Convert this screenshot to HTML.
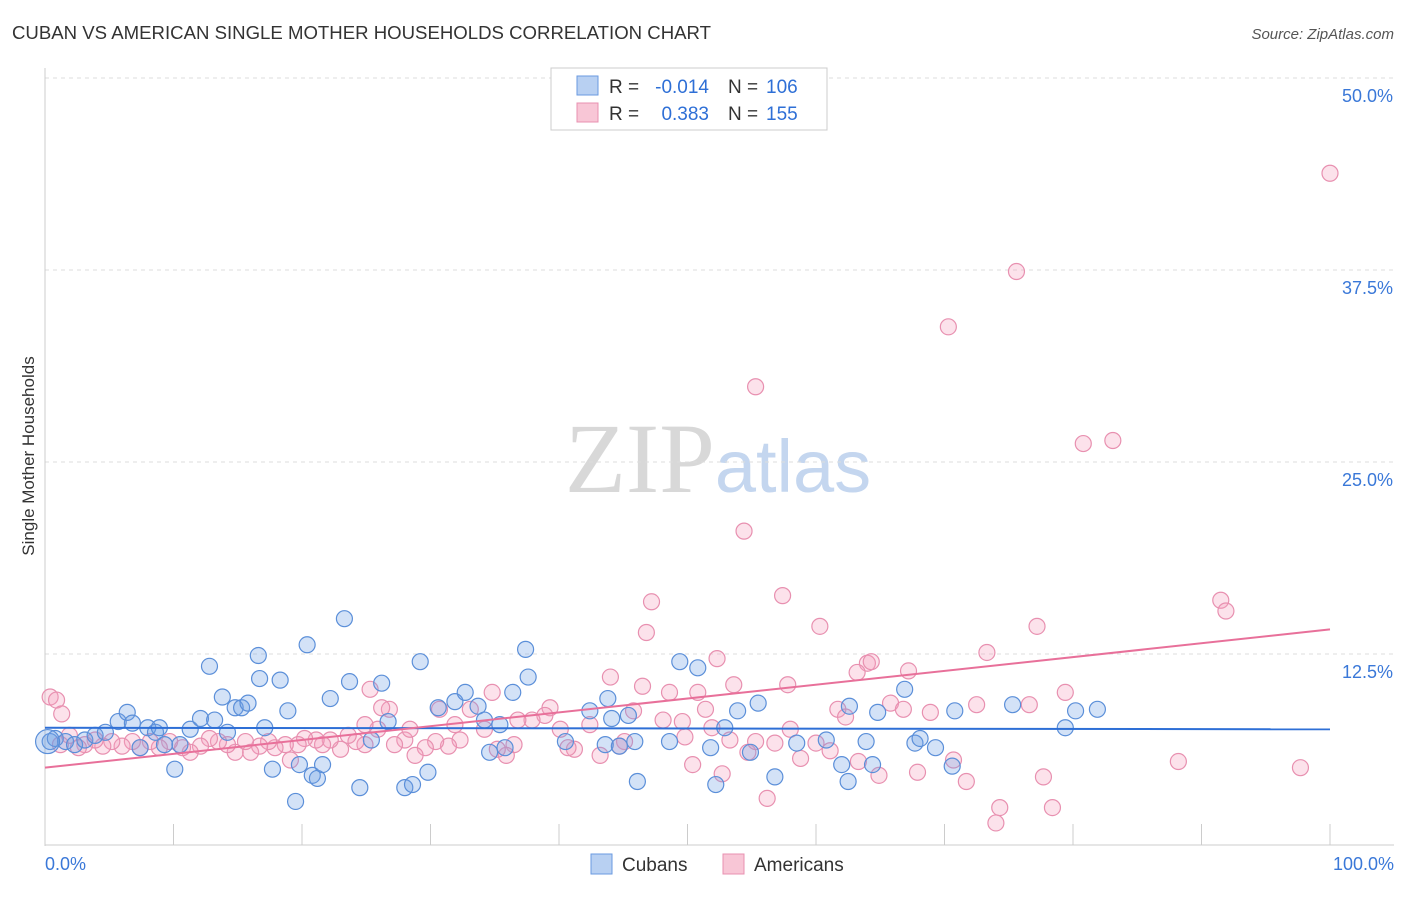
<!DOCTYPE html>
<html><head><meta charset="utf-8"><style>
body{margin:0;background:#fff;font-family:"Liberation Sans",sans-serif;}
</style></head><body>
<svg id="chart" width="1406" height="892" xmlns="http://www.w3.org/2000/svg" font-family="Liberation Sans, sans-serif">
<text x="12" y="39" font-size="18" fill="#333" textLength="699" lengthAdjust="spacingAndGlyphs">CUBAN VS AMERICAN SINGLE MOTHER HOUSEHOLDS CORRELATION CHART</text>
<text x="1394" y="39" font-size="15" fill="#555" text-anchor="end" font-style="italic">Source: ZipAtlas.com</text>
<text x="718" y="492" font-size="100" text-anchor="middle"><tspan font-family="Liberation Serif, serif" fill="#d8d8d8">ZIP</tspan><tspan fill="#c4d6ef" font-size="74">atlas</tspan></text>
<g id="grid"></g>
<g id="axes"></g>
<text transform="translate(34,456) rotate(-90)" font-size="17" fill="#333" text-anchor="middle">Single Mother Households</text>
<g id="points"></g>
<g id="lines"></g>
<g>
<rect x="551" y="68" width="276" height="62" fill="#fff" stroke="#ccc"/>
<rect x="577" y="76" width="21" height="19" fill="#b8d0f2" stroke="#6a9ae0"/>
<rect x="577" y="103" width="21" height="19" fill="#f8c6d6" stroke="#e890b0"/>
<text x="609" y="93" font-size="19" fill="#333">R =</text>
<text x="709" y="93" font-size="19" fill="#2e6fd6" text-anchor="end">-0.014</text>
<text x="728" y="93" font-size="19" fill="#333">N =</text>
<text x="766" y="93" font-size="19" fill="#2e6fd6">106</text>
<text x="609" y="120" font-size="19" fill="#333">R =</text>
<text x="709" y="120" font-size="19" fill="#2e6fd6" text-anchor="end">0.383</text>
<text x="728" y="120" font-size="19" fill="#333">N =</text>
<text x="766" y="120" font-size="19" fill="#2e6fd6">155</text>
</g>
<g>
<rect x="591" y="854" width="21" height="20" fill="#b8d0f2" stroke="#6a9ae0"/>
<text x="622" y="871" font-size="19" fill="#333">Cubans</text>
<rect x="723" y="854" width="21" height="20" fill="#f8c6d6" stroke="#e890b0"/>
<text x="754" y="871" font-size="19" fill="#333">Americans</text>
</g>
</svg>
<script>
const yTicks=[12.5,25.0,37.5,50.0];
const xTickLabels=["0.0%","100.0%"];
const cubanX=[0.4,0.8,1.6,2.3,3.1,3.9,4.7,5.7,6.4,6.8,7.4,8.0,8.6,8.9,9.3,10.1,10.5,11.3,12.1,12.8,13.2,13.8,14.2,14.8,15.3,15.8,16.6,16.7,17.1,17.7,18.3,18.9,19.5,19.8,20.4,20.8,21.2,21.6,22.2,23.3,23.7,24.5,25.4,26.2,26.7,28.0,28.6,29.2,29.8,30.6,31.9,32.7,33.7,34.2,34.6,35.4,35.8,36.4,37.4,37.6,40.5,42.4,43.6,43.8,44.1,44.7,45.4,45.9,46.1,48.6,49.4,50.8,51.8,52.2,52.9,53.9,54.9,55.5,56.8,58.5,60.8,62.0,62.5,62.6,63.9,64.4,64.8,66.9,67.7,68.1,69.3,70.6,70.8,75.3,79.4,80.2,81.9];
const cubanY=[6.8,7.0,6.8,6.6,6.9,7.2,7.4,8.1,8.7,8.0,6.4,7.7,7.4,7.7,6.6,5.0,6.6,7.6,8.3,11.7,8.2,9.7,7.4,9.0,9.0,9.3,12.4,10.9,7.7,5.0,10.8,8.8,2.9,5.3,13.1,4.6,4.4,5.3,9.6,14.8,10.7,3.8,6.9,10.6,8.1,3.8,4.0,12.0,4.8,9.0,9.4,10.0,9.1,8.2,6.1,7.9,6.4,10.0,12.8,11.0,6.8,8.8,6.6,9.6,8.3,6.5,8.5,6.8,4.2,6.8,12.0,11.6,6.4,4.0,7.7,8.8,6.1,9.3,4.5,6.7,6.9,5.3,4.2,9.1,6.8,5.3,8.7,10.2,6.7,7.0,6.4,5.2,8.8,9.2,7.7,8.8,8.9];
const amerX=[100,75.6,70.3,55.3,80.8,83.1,54.4,47.2,57.4,46.8,60.3,77.2,91.5,91.9,73.3,52.3,64.0,64.3,67.2,63.2,44.0,46.5,53.6,57.8,79.4,34.8,48.6,50.8,25.3,65.8,72.5,76.6,61.7,62.3,66.8,68.9,0.4,0.9,1.3,88.2,97.7,77.7,67.9,71.7,74.3,74.0,78.4,56.2,50.4,52.7,64.9,63.3,70.7,58.8,54.7,56.8,60.0,61.1,58.0,53.3,51.9,49.8,48.1,49.6,51.4,45.1,45.8,44.7,43.2,42.4,41.2,40.7,40.1,39.3,38.9,37.9,36.5,35.9,35.2,34.2,33.1,32.3,31.4,30.7,30.4,29.6,28.8,28.0,27.2,26.8,26.2,25.9,24.9,24.2,23.6,23.0,22.2,21.6,21.1,20.2,19.7,19.1,18.7,17.9,17.4,16.7,16.0,15.6,14.8,14.2,13.5,12.8,12.1,11.3,10.7,9.7,8.9,8.2,7.4,6.8,6.0,5.2,4.5,3.9,3.1,2.6,1.9,1.2,24.9,28.4,31.9,36.8,55.3];
const amerY=[43.8,37.4,33.8,29.9,26.2,26.4,20.5,15.9,16.3,13.9,14.3,14.3,16.0,15.3,12.6,12.2,11.9,12.0,11.4,11.3,11.0,10.4,10.5,10.5,10.0,10.0,10.0,10.0,10.2,9.3,9.2,9.2,8.9,8.4,8.9,8.7,9.7,9.5,8.6,5.5,5.1,4.5,4.8,4.2,2.5,1.5,2.5,3.1,5.3,4.7,4.6,5.5,5.6,5.7,6.1,6.7,6.7,6.2,7.6,6.9,7.7,7.1,8.2,8.1,8.9,6.8,8.8,6.5,5.9,7.9,6.3,6.4,7.6,9.0,8.5,8.2,6.6,5.9,6.3,7.6,8.9,6.9,6.5,8.9,6.8,6.4,5.9,6.9,6.6,8.9,9.0,7.6,6.6,6.8,7.2,6.3,6.9,6.6,6.9,7.0,6.6,5.6,6.6,6.4,6.8,6.5,6.1,6.8,6.1,6.6,6.8,7.0,6.5,6.1,6.4,6.8,6.4,6.8,6.4,6.8,6.5,6.8,6.5,6.9,6.6,6.4,7.2,6.6,7.9,7.6,7.9,8.2,6.8];
const cubanTrend=[7.7,7.6];
const amerTrend=[5.1,14.1];

const NS="http://www.w3.org/2000/svg";
const X0=45,X1=1330,Y0=846,Ypx=192/12.5;
const sx=v=>X0+(X1-X0)*v/100;
const sy=v=>Y0-v*Ypx;
function mk(tag,attrs,parent){const e=document.createElementNS(NS,tag);for(const k in attrs)e.setAttribute(k,attrs[k]);parent.appendChild(e);return e;}
const grid=document.getElementById('grid'),axes=document.getElementById('axes'),pts=document.getElementById('points'),lines=document.getElementById('lines');
yTicks.forEach(t=>{
 const l=mk('line',{x1:45,x2:1394,y1:sy(t),y2:sy(t),stroke:'#ddd','stroke-dasharray':'4,4'},grid);
 
 
 const tx=mk('text',{x:1393,y:sy(t)+24,'font-size':18,fill:'#3a78d8','text-anchor':'end'},axes);
 tx.textContent=t.toFixed(1)+'%';
 
 
});
const yax=mk('line',{x1:45,x2:45,y1:68,y2:846,stroke:'#ccc'},axes);


const xax=mk('line',{x1:45,x2:1394,y1:845,y2:845,stroke:'#ccc'},axes);


for(let i=0;i<=10;i++){
 const t=mk('line',{x1:sx(i*10),x2:sx(i*10),y1:824,y2:845,stroke:'#ccc'},axes);
 
 
}
[[0,'start',45],[100,'end',1394]].forEach((d,i)=>{
 const t=mk('text',{x:d[2],y:870,'font-size':18,fill:'#3a78d8','text-anchor':d[1]},axes);
 t.textContent=xTickLabels[i];
 
 
});
amerX.forEach((v,i)=>{
 const c=mk('circle',{cx:sx(v),cy:sy(amerY[i]),r:8,fill:'rgba(244,160,190,0.3)',stroke:'#e890b0','stroke-width':1.2},pts);
 
 
});
cubanX.forEach((v,i)=>{
 const c=mk('circle',{cx:sx(v),cy:sy(cubanY[i]),r:8,fill:'rgba(110,160,230,0.3)',stroke:'#5b8fd9','stroke-width':1.2},pts);
 
 
});
const big=mk('circle',{cx:sx(0.2),cy:sy(6.8),r:12,fill:'rgba(110,160,230,0.3)',stroke:'#5b8fd9','stroke-width':1.2},pts);


const l1=mk('line',{x1:sx(0),x2:sx(100),y1:sy(cubanTrend[0]),y2:sy(cubanTrend[1]),stroke:'#2e6fd6','stroke-width':2},lines);


const l2=mk('line',{x1:sx(0),x2:sx(100),y1:sy(amerTrend[0]),y2:sy(amerTrend[1]),stroke:'#e8709a','stroke-width':2},lines);


</script>
</body></html>
